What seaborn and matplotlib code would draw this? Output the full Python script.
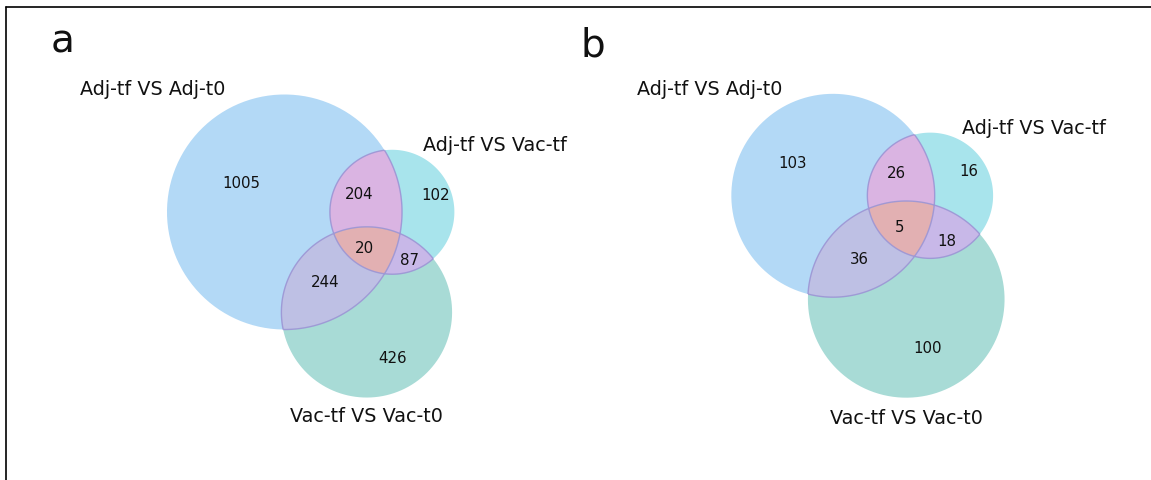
import numpy as np
import matplotlib
matplotlib.use("Agg")
import matplotlib.pyplot as plt
import seaborn as sns
from matplotlib.path import Path
from matplotlib.patches import PathPatch
from matplotlib.lines import Line2D

# ---------------- data ----------------
set_labels = ["Adj-tf VS Adj-t0", "Adj-tf VS Vac-tf", "Vac-tf VS Vac-t0"]
region_ids = ["100", "010", "110", "001", "101", "011", "111"]
subsets_a = [1005, 102, 204, 426, 244, 87, 20]
subsets_b = [103, 16, 26, 100, 36, 18, 5]
panel_letters = ["a", "b"]
region_colors = ["#b3d9f6", "#a8e4ec", "#dab4e2", "#a8dbd6", "#bec0e4", "#c8b8e8", "#e2b0b2"]
edge_color = "#9a94d4"

# ---------------- style ----------------
sns.set_theme(style="white")
plt.rcParams["font.family"] = ["DejaVu Sans"]

W, H, DPI = 1151, 481, 100
fig = plt.figure(figsize=(W / DPI, H / DPI), dpi=DPI)
fig.patch.set_facecolor("white")


def circle_overlap(r1, r2, d):
    if d >= r1 + r2:
        return 0.0
    if d <= abs(r1 - r2):
        return np.pi * min(r1, r2) ** 2
    a1 = np.arccos((d * d + r1 * r1 - r2 * r2) / (2 * d * r1))
    a2 = np.arccos((d * d + r2 * r2 - r1 * r1) / (2 * d * r2))
    return (r1 * r1 * a1 + r2 * r2 * a2
            - 0.5 * np.sqrt((-d + r1 + r2) * (d + r1 - r2) * (d - r1 + r2) * (d + r1 + r2)))


def distance_for_area(r1, r2, area):
    lo, hi = abs(r1 - r2), r1 + r2
    for _ in range(200):
        mid = 0.5 * (lo + hi)
        if circle_overlap(r1, r2, mid) > area:
            lo = mid
        else:
            hi = mid
    return 0.5 * (lo + hi)


def venn3_layout(subsets):
    s = np.asarray(subsets, float)
    s = s / s.sum()
    A_a = s[0] + s[2] + s[4] + s[6]
    A_b = s[1] + s[2] + s[5] + s[6]
    A_c = s[3] + s[4] + s[5] + s[6]
    A_ab, A_bc, A_ac = s[2] + s[6], s[5] + s[6], s[4] + s[6]
    radii = np.sqrt(np.array([A_a, A_b, A_c]) / np.pi)
    d_ab = distance_for_area(radii[0], radii[1], A_ab)
    d_bc = distance_for_area(radii[1], radii[2], A_bc)
    d_ac = distance_for_area(radii[0], radii[2], A_ac)
    cx = (d_ac ** 2 - d_bc ** 2 + d_ab ** 2) / (2.0 * d_ab)
    cy = -np.sqrt(max(d_ac ** 2 - cx ** 2, 0.0))
    centers = np.array([[0.0, 0.0], [d_ab, 0.0], [cx, cy]])
    w = radii ** 2
    centers = centers - (w[:, None] * centers).sum(0) / w.sum()
    return centers, radii


def intersections(c1, r1, c2, r2):
    d = np.linalg.norm(c2 - c1)
    a = (d * d + r1 * r1 - r2 * r2) / (2 * d)
    h = np.sqrt(max(r1 * r1 - a * a, 0.0))
    u = (c2 - c1) / d
    p = c1 + a * u
    perp = np.array([-u[1], u[0]])
    return [p + h * perp, p - h * perp]


def split_arcs(centers, radii):
    arcs = []
    for i in range(3):
        c, r = centers[i], radii[i]
        angles = []
        for j in range(3):
            if j != i:
                for p in intersections(c, r, centers[j], radii[j]):
                    angles.append(np.degrees(np.arctan2(p[1] - c[1], p[0] - c[0])) % 360)
        angles.sort()
        n = len(angles)
        for k in range(n):
            t0, t1 = angles[k], angles[(k + 1) % n]
            if t1 <= t0:
                t1 += 360
            tm = np.radians(0.5 * (t0 + t1))
            pm = c + r * np.array([np.cos(tm), np.sin(tm)])
            mem = tuple(int(np.linalg.norm(pm - centers[j]) < radii[j]) if j != i else -1
                        for j in range(3))
            arcs.append(dict(i=i, t0=t0, t1=t1, mid=pm, mem=mem))
    return arcs


def arc_points(c, r, t0, t1, n=80):
    t = np.radians(np.linspace(t0, t1, n))
    return np.column_stack([c[0] + r * np.cos(t), c[1] + r * np.sin(t)])


def region_arcs(arcs, rid):
    bits = [int(ch) for ch in rid]
    out = []
    for a in arcs:
        if all(a["mem"][j] == bits[j] for j in range(3) if j != a["i"]):
            out.append(a)
    return bits, out


def draw_venn(ax, subsets, px_center, scale, box):
    centers, radii = venn3_layout(subsets)
    arcs = split_arcs(centers, radii)
    # map data -> pixels through axis limits
    x0, x1, ytop, ybot = box
    cxA, cyA = centers[0]
    ax.set_xlim(cxA + (x0 - px_center[0]) / scale, cxA + (x1 - px_center[0]) / scale)
    ax.set_ylim(cyA - (ybot - px_center[1]) / scale, cyA - (ytop - px_center[1]) / scale)
    ax.set_axis_off()

    for rid, col, val in zip(region_ids, region_colors, subsets):
        bits, ra = region_arcs(arcs, rid)
        if not ra:
            continue
        # oriented pieces
        pieces = []
        for a in ra:
            c, r = centers[a["i"]], radii[a["i"]]
            if bits[a["i"]] == 1:
                pts = arc_points(c, r, a["t0"], a["t1"])
            else:
                pts = arc_points(c, r, a["t1"], a["t0"])
            pieces.append(pts)
        loop = [pieces.pop(0)]
        while pieces:
            end = loop[-1][-1]
            k = int(np.argmin([np.linalg.norm(p[0] - end) for p in pieces]))
            loop.append(pieces.pop(k))
        verts = np.vstack(loop)
        verts = np.vstack([verts, verts[:1]])
        codes = [Path.MOVETO] + [Path.LINETO] * (len(verts) - 2) + [Path.CLOSEPOLY]
        ax.add_patch(PathPatch(Path(verts, codes), facecolor=col, edgecolor="none", zorder=1))
        # label position: midpoints of arcs weighted by their angular span
        wts = np.array([a["t1"] - a["t0"] for a in ra])
        mids = np.array([a["mid"] for a in ra])
        lp = (wts[:, None] * mids).sum(0) / wts.sum()
        ax.text(lp[0], lp[1], str(val), ha="center", va="center", fontsize=10.8,
                color="#111111", zorder=4)

    # interior outlines
    for a in arcs:
        if any(m == 1 for m in a["mem"]):
            pts = arc_points(centers[a["i"]], radii[a["i"]], a["t0"], a["t1"])
            ax.plot(pts[:, 0], pts[:, 1], color=edge_color, lw=1.0, alpha=0.9, zorder=2,
                    solid_capstyle="butt")

    # set labels (matplotlib_venn placement)
    c, r = centers, radii
    ax.text(c[0][0] - r[0] / 2, c[0][1] + r[0], set_labels[0], ha="right", va="baseline",
            fontsize=13.75, color="#111111")
    ax.text(c[1][0] + r[1] / 2, c[1][1] + r[1], set_labels[1], ha="left", va="baseline",
            fontsize=13.75, color="#111111")
    ax.text(c[2][0], c[2][1] - 1.1 * r[2], set_labels[2], ha="center", va="top",
            fontsize=13.75, color="#111111")


panels = [
    (subsets_a, (284.5, 213.0), 248.0, (0, 575), (51.0, 53.0)),
    (subsets_b, (833.0, 196.5), 241.0, (575, W), (580.0, 56.5)),
]
for (subs, pc, sc, (bx0, bx1), (lx, ly)), letter in zip(panels, panel_letters):
    ax = fig.add_axes([bx0 / W, 0.0, (bx1 - bx0) / W, 1.0])
    draw_venn(ax, subs, pc, sc, (bx0, bx1, 0, H))
    fig.text(lx / W, 1 - ly / H, letter, fontsize=28, ha="left", va="baseline", color="#111111")

# partial frame (top and left edges)
fig.add_artist(Line2D([6 / W, 1.0], [1 - 8 / H, 1 - 8 / H], transform=fig.transFigure,
                      color="black", lw=1.2))
fig.add_artist(Line2D([6 / W, 6 / W], [0.0, 1 - 8 / H], transform=fig.transFigure,
                      color="black", lw=1.2))

fig.savefig("out.png", dpi=DPI, facecolor="white")
